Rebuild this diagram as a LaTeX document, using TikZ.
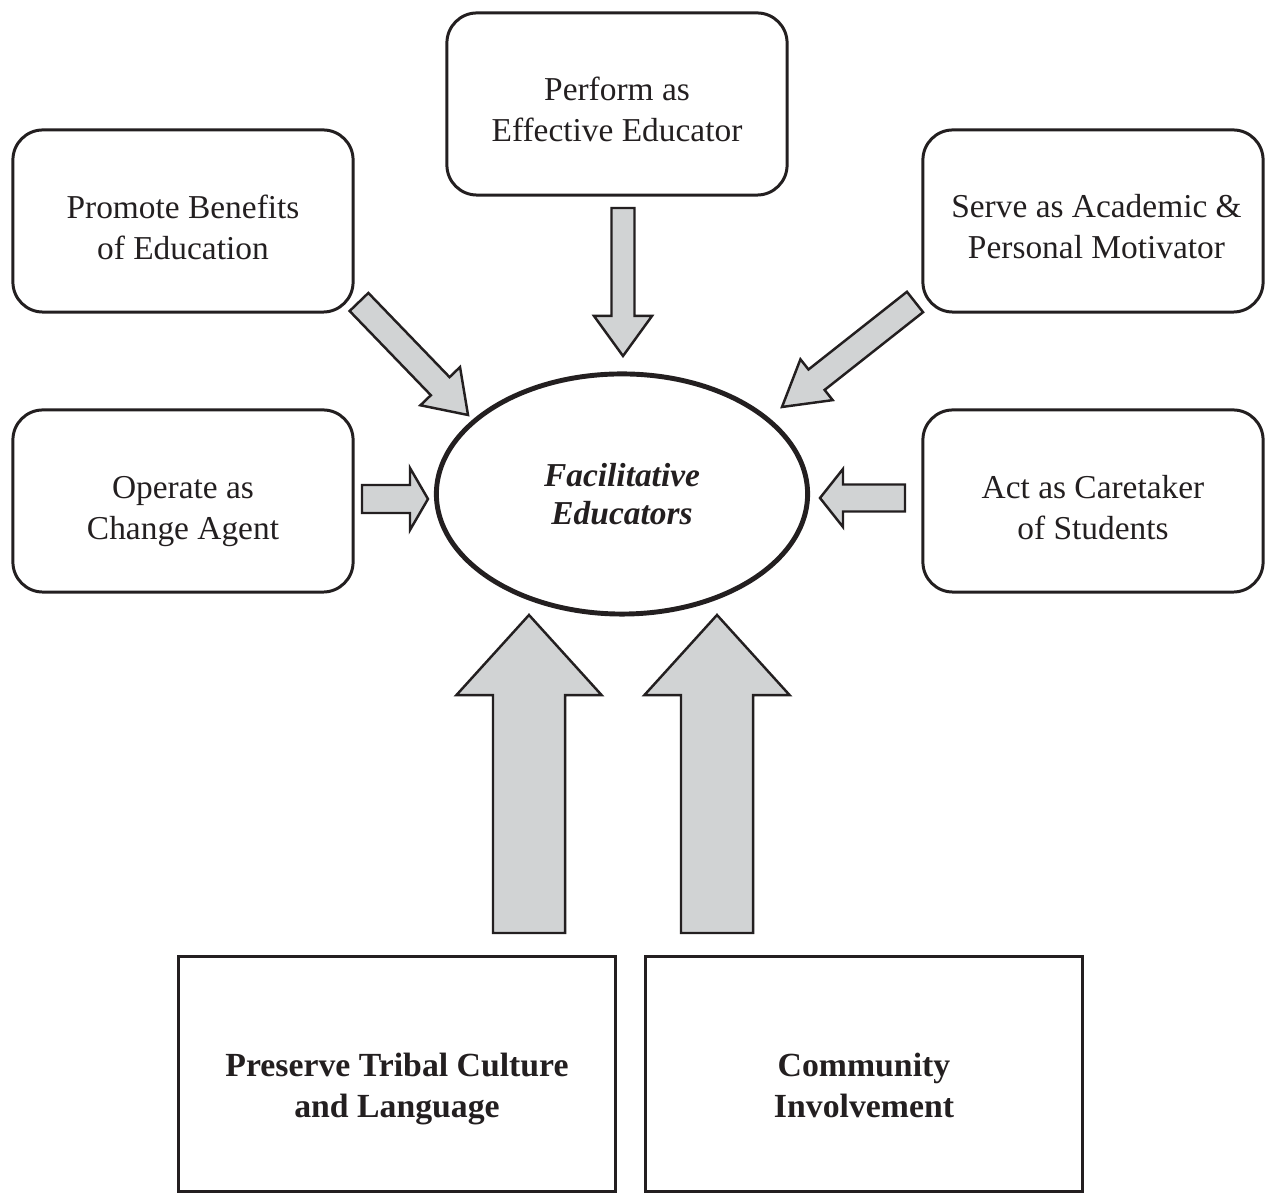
\documentclass[tikz,border=0pt]{standalone}
\usepackage{fontspec}
\setmainfont{Liberation Serif}
\usetikzlibrary{calc,shapes.geometric}

\definecolor{ink}{RGB}{35,31,32}
\definecolor{arrowgray}{RGB}{209,211,212}

% block arrow: tail, tip, half shaft, half head, head length
\newcommand{\fatarrow}[5]{%
  \coordinate (hb) at ($(#2)!#5!(#1)$);
  \draw[fat] ($(#1)!#3!90:(#2)$) -- ($(hb)!#3!-90:(#1)$) -- ($(hb)!#4!-90:(#1)$)
    -- (#2) -- ($(hb)!#4!90:(#1)$) -- ($(hb)!#3!90:(#1)$) -- ($(#1)!#3!-90:(#2)$) -- cycle;
}
% two centred lines, set a bit lower in the box
\newcommand{\droptext}[2]{\raisebox{-#1}[\height][\depth]{\begin{tabular}{@{}c@{}}#2\end{tabular}}}

\begin{document}
\begin{tikzpicture}[x=0.01cm, y=-0.01cm, font=\fontsize{9.5}{11.4}\selectfont, text=ink]
  \tikzstyle{role}=[draw=ink, line width=0.85pt, rounded corners=0.3cm,
    minimum width=3.40cm, minimum height=1.82cm, inner sep=0pt]
  \tikzstyle{base}=[draw=ink, line width=0.85pt, minimum width=4.36cm,
    minimum height=2.35cm, inner sep=0pt, font=\fontsize{9.6}{11.4}\selectfont\bfseries]
  \tikzstyle{core}=[ellipse, draw=ink, line width=1.4pt, minimum width=3.71cm,
    minimum height=2.40cm, align=center, font=\fontsize{9.5}{11}\selectfont\bfseries\itshape]
  \tikzstyle{fat}=[draw=ink, line width=0.7pt, fill=arrowgray, line join=miter]

  \useasboundingbox (0,0) rectangle (1281,1195);

  % Draw the centre node
  \node[core] (edu) at (622,494) {Facilitative\\Educators};

  % Draw the role boxes
  \node[role] (perform) at (617,104) {\droptext{0.09cm}{Perform as\\Effective Educator}};
  \node[role] (promote) at (183,221) {\droptext{0.10cm}{Promote Benefits\\of Education}};
  \node[role] (serve) at (1093,221) {\hspace{0.07cm}\droptext{0.09cm}{Serve as Academic \&\\Personal Motivator}};
  \node[role] (operate) at (183,501) {\droptext{0.10cm}{Operate as\\Change Agent}};
  \node[role] (act) at (1093,501) {\droptext{0.10cm}{Act as Caretaker\\of Students}};

  % Draw the base boxes
  \node[base] (tribal) at (397,1074) {\droptext{0.15cm}{Preserve Tribal Culture\\and Language}};
  \node[base] (community) at (864,1074) {\droptext{0.15cm}{Community\\Involvement}};

  % Arrow ends
  \coordinate (perform-t) at (623,208);
  \coordinate (perform-h) at (623,356);
  \coordinate (promote-t) at (359,302);
  \coordinate (promote-h) at (468,415);
  \coordinate (serve-t) at (915,302);
  \coordinate (serve-h) at (782,407);
  \coordinate (operate-t) at (362,499);
  \coordinate (operate-h) at (428,499);
  \coordinate (act-t) at (905,498);
  \coordinate (act-h) at (820,498);
  \coordinate (tribal-t) at (529,933);
  \coordinate (tribal-h) at (529,615);
  \coordinate (community-t) at (717,933);
  \coordinate (community-h) at (717,615);

  % Connect boxes to the centre
  \fatarrow{perform-t}{perform-h}{0.115cm}{0.29cm}{0.40cm}
  \fatarrow{promote-t}{promote-h}{0.13cm}{0.275cm}{0.40cm}
  \fatarrow{serve-t}{serve-h}{0.13cm}{0.26cm}{0.44cm}
  \fatarrow{operate-t}{operate-h}{0.14cm}{0.31cm}{0.18cm}
  \fatarrow{act-t}{act-h}{0.135cm}{0.29cm}{0.23cm}
  \fatarrow{tribal-t}{tribal-h}{0.36cm}{0.725cm}{0.80cm}
  \fatarrow{community-t}{community-h}{0.36cm}{0.725cm}{0.80cm}
\end{tikzpicture}
\end{document}
